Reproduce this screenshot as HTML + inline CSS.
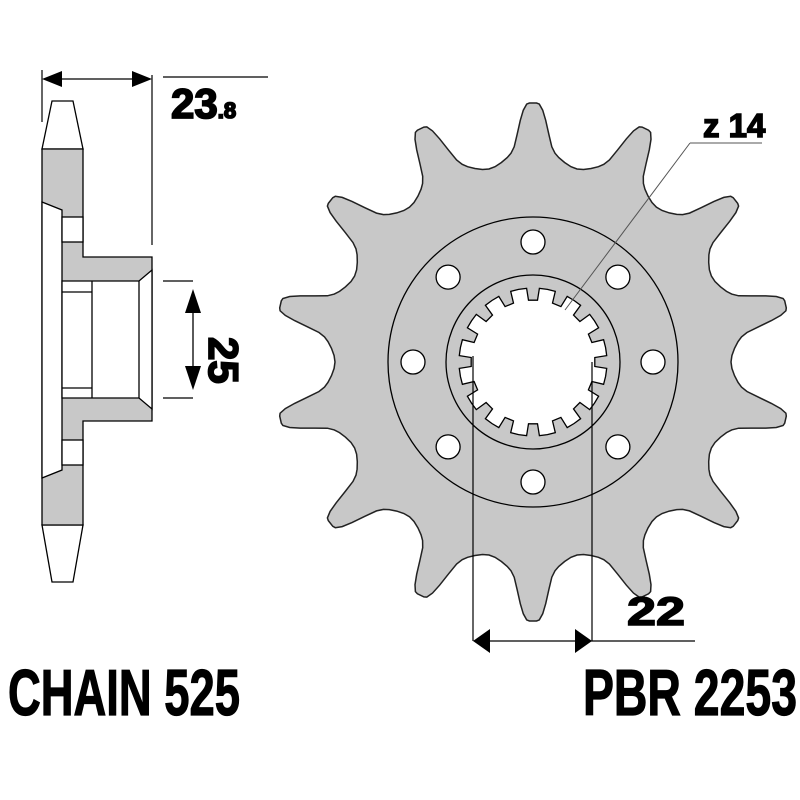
<!DOCTYPE html>
<html><head><meta charset="utf-8"><style>
html,body{margin:0;padding:0;background:#fff;width:800px;height:800px;overflow:hidden}
svg{display:block}
.t{font-family:"Liberation Sans",sans-serif;font-weight:bold;fill:#000;stroke:#000}
</style></head><body>
<svg id="s" width="800" height="800" viewBox="0 0 800 800" xmlns="http://www.w3.org/2000/svg">
<!-- side view -->
<g stroke="#000" stroke-width="1.3">
<path d="M52,101 L73,101 L83,149 L42,149 Z" fill="#fff"/>
<path d="M42,525 L83,525 L73,582 L52,582 Z" fill="#fff"/>
<path d="M42,149 L83,149 L83,257 L152,257 L152,421 L83,421 L83,525 L42,525 Z" fill="#c8c8c8"/>
<path d="M42,202 L62,210 L62,470 L42,478 Z" fill="#fff"/>
<rect x="62" y="217" width="21" height="25" fill="#fff"/>
<rect x="62" y="440" width="21" height="25" fill="#fff"/>
<path d="M62,281 L139,281 L152,270 L152,409 L139,398 L62,398 Z" fill="#fff"/>
<line x1="92" y1="281" x2="92" y2="398"/>
<line x1="139" y1="281" x2="139" y2="398"/>
<line x1="62" y1="292" x2="92" y2="292"/>
<line x1="62" y1="388" x2="92" y2="388"/>
</g>
<g stroke="#000" stroke-width="1.2" fill="none">
<line x1="42" y1="70" x2="42" y2="122"/>
<line x1="152" y1="75" x2="152" y2="245"/>
<line x1="60" y1="79" x2="134" y2="79"/>
<line x1="163" y1="77" x2="268" y2="77"/>
<line x1="163" y1="281" x2="193" y2="281"/>
<line x1="163" y1="398" x2="193" y2="398"/>
</g>
<path d="M42,79 L62,71 L62,87 Z M152,79 L132,71 L132,87 Z" fill="#000"/>
<path d="M193,289 L185,313 L201,313 Z M193,390 L185,366 L201,366 Z" fill="#000"/>
<line x1="193" y1="305" x2="193" y2="375" stroke="#000" stroke-width="1.3"/>
<text class="t" x="171" y="118" font-size="42" stroke-width="1.8">23<tspan font-size="22">.8</tspan></text>
<text class="t" font-size="42" stroke-width="1.8" transform="translate(209,337) rotate(90)">25</text>
<!-- gear -->
<path id="gear" fill="#c8c8c8" stroke="#222" stroke-width="1.5"/>
<g stroke="#000" stroke-width="1.3" fill="none">
<circle cx="533" cy="362" r="145"/>
<circle cx="533" cy="362" r="87"/>
</g>
<g id="holes" fill="#fff" stroke="#000" stroke-width="1.3"></g>
<path id="spl" fill="#fff" stroke="#000" stroke-width="1.3"/>
<g stroke="#000" stroke-width="1.2">
<line x1="473" y1="356" x2="473" y2="641"/>
<line x1="592" y1="362" x2="592" y2="641"/>
<line x1="490" y1="641" x2="695" y2="641"/>
</g>
<path d="M473,641 L490,629 L490,653 Z M592,641 L575,629 L575,653 Z" fill="#000"/>
<line x1="565" y1="310" x2="690" y2="143" stroke="#555" stroke-width="1"/>
<line x1="690" y1="143" x2="762" y2="143" stroke="#555" stroke-width="1"/>
<text class="t" x="703" y="137" font-size="33" stroke-width="1.5">z 14</text>
<text class="t" x="627" y="625" font-size="40" stroke-width="1.5" textLength="58" lengthAdjust="spacingAndGlyphs">22</text>
<text class="t" x="8" y="715" font-size="65" stroke-width="1.2" textLength="232" lengthAdjust="spacingAndGlyphs">CHAIN 525</text>
<text class="t" x="583" y="715" font-size="65" stroke-width="1.2" textLength="214" lengthAdjust="spacingAndGlyphs">PBR 2253</text>
</svg>
<script>
(function(){
var cx=533,cy=362,N=14,p=360/N;
var prof=[[-12.86,198],[-11,199],[-9,202],[-7.2,206],[-6,210],[-5,216],[-4,228],[-3,242],[-2.2,252],[-1.4,258],[-0.8,259],[0.8,259],[1.4,258],[2.2,252],[3,242],[4,228],[5,216],[6,210],[7.2,206],[9,202],[11,199]];
var d="";
for(var i=0;i<N;i++){var a0=-90+i*p;
prof.forEach(function(q,j){var a=(a0+q[0])*Math.PI/180;var x=cx+q[1]*Math.cos(a),y=cy+q[1]*Math.sin(a);d+=(d?"L":"M")+x.toFixed(1)+","+y.toFixed(1);});}
document.getElementById("gear").setAttribute("d",d+"Z");
var h="";for(var k=0;k<8;k++){var a=(-90+k*45)*Math.PI/180;h+='<circle cx="'+(cx+120*Math.cos(a)).toFixed(1)+'" cy="'+(cy+120*Math.sin(a)).toFixed(1)+'" r="12"/>';}
document.getElementById("holes").innerHTML=h;
var M=16,s=360/M,e="";
for(var k=0;k<M;k++){var b=-90+k*s;
var pts=[[-s/2,74],[-5,74],[-4.2,62],[4.2,62],[5,74]];
pts.forEach(function(q){var a=(b+q[0])*Math.PI/180;var x=cx+q[1]*Math.cos(a),y=cy+q[1]*Math.sin(a);e+=(e?"L":"M")+x.toFixed(1)+","+y.toFixed(1);});}
document.getElementById("spl").setAttribute("d",e+"Z");
})();
</script>
</body></html>
